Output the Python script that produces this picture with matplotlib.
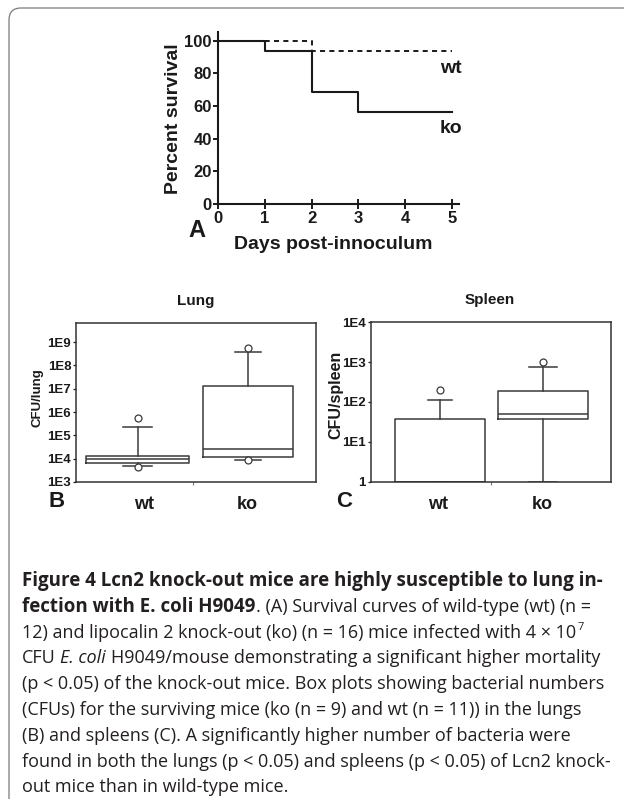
import numpy as np
import matplotlib
matplotlib.use("Agg")
import matplotlib.pyplot as plt
from matplotlib.patches import FancyBboxPatch

# ---------------------------------------------------------------
# Data
# ---------------------------------------------------------------
# Panel A: Kaplan-Meier survival (percent)
days_wt = [0, 2, 5]
surv_wt = [100, 93.75, 93.75]
days_ko = [0, 1, 2, 3, 5]
surv_ko = [100, 93.75, 68.75, 56.25, 56.25]
days_ticks = [0, 1, 2, 3, 4, 5]
surv_ticks = [0, 20, 40, 60, 80, 100]

groups = ["wt", "ko"]

# Panel B: CFU per lung (box stats)
lung_q1 = [6.8e3, 1.15e4]
lung_med = [9.5e3, 2.5e4]
lung_q3 = [1.35e4, 1.35e7]
lung_whislo = [5.0e3, 8.8e3]
lung_whishi = [2.3e5, 3.6e8]
lung_fliers = [[5.4e5, 4.2e3], [5.4e8, 8.5e3]]
lung_ticks = [1e3, 1e4, 1e5, 1e6, 1e7, 1e8, 1e9]
lung_tick_labels = ["1E3", "1E4", "1E5", "1E6", "1E7", "1E8", "1E9"]

# Panel C: CFU per spleen (box stats)
spleen_q1 = [1, 37]
spleen_med = [1, 50]
spleen_q3 = [37, 192]
spleen_whislo = [1, 1]
spleen_whishi = [110, 740]
spleen_fliers = [[200], [1000]]
spleen_ticks = [1, 1e1, 1e2, 1e3, 1e4]
spleen_tick_labels = ["1", "1E1", "1E2", "1E3", "1E4"]

# Caption, line by line, as (text, style) runs
caption = [
    [("Figure 4 Lcn2 knock-out mice are highly susceptible to lung in-", "bold")],
    [("fection with E. coli H9049", "bold"), (". (A) Survival curves of wild-type (wt) (n =", "normal")],
    [("12) and lipocalin 2 knock-out (ko) (n = 16) mice infected with 4 \u00d7 10", "normal"), ("7", "sup")],
    [("CFU", "normal"), (" E. coli", "italic"), (" H9049/mouse demonstrating a significant higher mortality", "normal")],
    [("(p < 0.05) of the knock-out mice. Box plots showing bacterial numbers", "normal")],
    [("(CFUs) for the surviving mice (ko (n = 9) and wt (n = 11)) in the lungs", "normal")],
    [("(B) and spleens (C). A significantly higher number of bacteria were", "normal")],
    [("found in both the lungs (p < 0.05) and spleens (p < 0.05) of Lcn2 knock-", "normal")],
    [("out mice than in wild-type mice.", "normal")],
]

W, H = 624, 799
plt.rcParams['font.family'] = ['Liberation Sans', 'DejaVu Sans']
fig = plt.figure(figsize=(W / 100, H / 100), dpi=100)


def fx(x):
    return x / W


def fy(y):
    return 1 - y / H


def box(l, t, r, b):
    return [l / W, 1 - b / H, (r - l) / W, (b - t) / H]


INK = '#1a1a1a'

# frame round the figure (only top and left edges are visible)
frame = FancyBboxPatch((0.09, -0.5), 7.0, (H - 8) / 100 + 0.5,
                       boxstyle="round,pad=0,rounding_size=0.12",
                       transform=fig.dpi_scale_trans, fill=False,
                       ec='#7a7a7a', lw=0.9)
fig.add_artist(frame)

# ---------------------------------------------------------------
# Panel A: survival
# ---------------------------------------------------------------
ax_a = fig.add_axes(box(218, 31.7, 459, 204))
ax_a.step(days_wt, surv_wt, where='post', color=INK, lw=1.4, ls=(0, (2.6, 2.2)))
ax_a.step(days_ko, surv_ko, where='post', color=INK, lw=1.5)
ax_a.set_xlim(0, 5.15)
ax_a.set_ylim(0, 105.5)
for s in ['top', 'right']:
    ax_a.spines[s].set_visible(False)
for s in ['left', 'bottom']:
    ax_a.spines[s].set_linewidth(1.5)
    ax_a.spines[s].set_color(INK)
ax_a.set_xticks(days_ticks)
ax_a.set_xticklabels([str(d) for d in days_ticks], fontsize=12, fontweight='bold')
ax_a.set_yticks(surv_ticks)
ax_a.set_yticklabels([str(v) for v in surv_ticks], fontsize=12, fontweight='bold')
ax_a.tick_params(axis='x', direction='inout', length=6.5, width=1.4, pad=1.5, colors=INK)
ax_a.tick_params(axis='y', direction='out', length=3.5, width=1.4, pad=1, colors=INK)
ax_a.patch.set_alpha(0)

fig.text(fx(173), fy(119), "Percent survival", rotation=90, ha='center', va='center',
         fontsize=14, fontweight='bold', color=INK)
fig.text(fx(333), fy(249), "Days post-innoculum", ha='center', va='baseline',
         fontsize=14, fontweight='bold', color=INK)
fig.text(fx(197), fy(237), "A", ha='center', va='baseline', fontsize=17, fontweight='bold', color=INK)
fig.text(fx(451), fy(73), "wt", ha='center', va='baseline', fontsize=14, fontweight='bold', color=INK)
fig.text(fx(451), fy(133), "ko", ha='center', va='baseline', fontsize=14, fontweight='bold', color=INK)

# ---------------------------------------------------------------
# Panels B and C: box plots
# ---------------------------------------------------------------
BOXC = '#3a3a3a'


def make_stats(q1, med, q3, lo, hi, fl):
    return [dict(q1=q1[i], med=med[i], q3=q3[i], whislo=lo[i], whishi=hi[i], fliers=fl[i])
            for i in range(len(q1))]


def box_panel(rect, stats, widths, capwidths, xlim, ylim, ticks, tick_labels):
    ax = fig.add_axes(rect)
    ax.set_yscale('log')
    lp = dict(color=BOXC, lw=1.1)
    ax.bxp(stats, positions=[1, 2], widths=widths, capwidths=capwidths,
           boxprops=lp, whiskerprops=lp, capprops=lp, medianprops=lp,
           flierprops=dict(marker='o', markersize=5, markerfacecolor='white',
                           markeredgecolor=BOXC, markeredgewidth=0.9),
           manage_ticks=False)
    ax.set_xlim(*xlim)
    ax.set_ylim(*ylim)
    ax.minorticks_off()
    ax.set_yticks(ticks)
    ax.set_yticklabels(tick_labels, fontsize=9.5, fontweight='bold')
    ax.set_xticks([])
    ax.set_xticks([1.5], minor=True)
    ax.tick_params(axis='x', which='minor', length=2, width=0.8, colors='#777')
    ax.tick_params(axis='y', length=2.5, width=0.9, pad=1, colors=INK)
    for s in ax.spines.values():
        s.set_color('#333333')
        s.set_linewidth(1.1)
    return ax


lung_stats = make_stats(lung_q1, lung_med, lung_q3, lung_whislo, lung_whishi, lung_fliers)
ax_b = box_panel(box(76, 323, 316, 482), lung_stats, [0.93, 0.81], [0.27, 0.23],
                 (0.443, 2.615), (1e3, 10 ** 9.82), lung_ticks, lung_tick_labels)

spleen_stats = make_stats(spleen_q1, spleen_med, spleen_q3, spleen_whislo, spleen_whishi, spleen_fliers)
ax_c = box_panel(box(370.7, 322.3, 610.7, 481.7), spleen_stats, [0.87, 0.876], [0.24, 0.27],
                 (0.325, 2.662), (1, 1e4), spleen_ticks, spleen_tick_labels)

fig.text(fx(196), fy(305), "Lung", ha='center', va='baseline', fontsize=11, fontweight='bold', color=INK)
fig.text(fx(490), fy(304), "Spleen", ha='center', va='baseline', fontsize=11, fontweight='bold', color=INK)
fig.text(fx(37), fy(398), "CFU/lung", rotation=90, ha='center', va='center',
         fontsize=9.5, fontweight='bold', color=INK)
fig.text(fx(336), fy(395), "CFU/spleen", rotation=90, ha='center', va='center',
         fontsize=11.5, fontweight='bold', color=INK)
for xc, g in zip([144, 247], groups):
    fig.text(fx(xc), fy(509), g, ha='center', va='baseline', fontsize=13, fontweight='bold', color=INK)
for xc, g in zip([438, 542], groups):
    fig.text(fx(xc), fy(509), g, ha='center', va='baseline', fontsize=13, fontweight='bold', color=INK)
fig.text(fx(57), fy(507), "B", ha='center', va='baseline', fontsize=16, fontweight='bold', color=INK)
fig.text(fx(344), fy(507), "C", ha='center', va='baseline', fontsize=16, fontweight='bold', color=INK)

# ---------------------------------------------------------------
# Caption with mixed bold / italic runs
# ---------------------------------------------------------------
CAPF = 'Open Sans'
CAPS = 13.0
CAPS_BOLD = 13.5
CAPC = '#231f20'
renderer = fig.canvas.get_renderer()


def run_props(style):
    p = dict(family=[CAPF, 'DejaVu Sans'], fontsize=CAPS, color=CAPC)
    if style == 'bold':
        p['fontweight'] = 'bold'
        p['fontsize'] = CAPS_BOLD
    elif style == 'italic':
        p['fontstyle'] = 'italic'
    elif style == 'sup':
        p['fontsize'] = CAPS * 0.62
    return p


def text_w(s, props):
    t = fig.text(0, 0, s, **props)
    w = t.get_window_extent(renderer).width
    t.remove()
    return w


x0, base0, lead = 22, 586, 25.8
for i, line in enumerate(caption):
    x = x0
    base = base0 + i * lead
    for j, (s, style) in enumerate(line):
        props = run_props(style)
        if s.startswith(' '):
            x += text_w('a a', props) - text_w('aa', props)
            s = s.lstrip()
        elif j > 0:
            x += 1.0
        y = base - 7.5 if style == 'sup' else base
        t = fig.text(fx(x), fy(y), s, va='baseline', ha='left', **props)
        x += t.get_window_extent(renderer).width

fig.savefig("out.png", dpi=100)
